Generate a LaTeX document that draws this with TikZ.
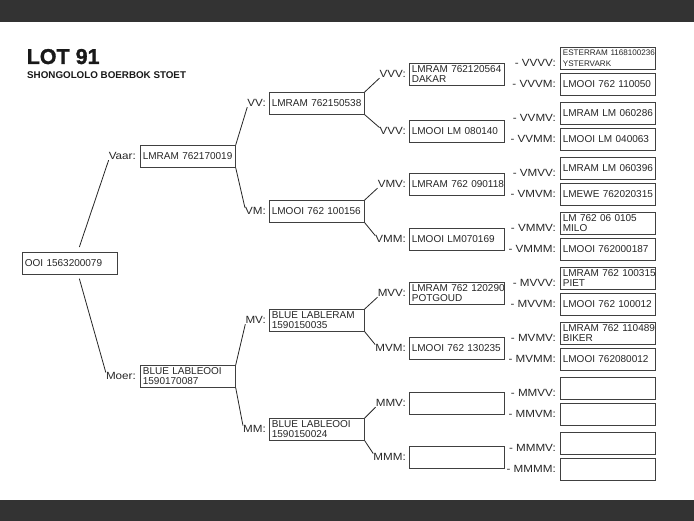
\documentclass[tikz,border=0pt]{standalone}
\usepackage{fontspec}
\setmainfont{Liberation Sans}
\newfontfamily\labfont[FakeStretch=1.12]{Liberation Sans}
\newfontfamily\titlefont[FakeBold=1.2]{Liberation Sans Bold}
\usetikzlibrary{positioning,shadows}
\newcommand\bl[1]{\mbox{#1}}
\begin{document}
\begin{tikzpicture}[x=1pt,y=-1pt,
  box/.style={draw=black!75, fill=white, line width=0.7pt, anchor=north west,
    drop shadow={shadow xshift=0.7pt, shadow yshift=-0.7pt, opacity=1, fill=black!80},
    minimum width=95pt, minimum height=22pt, text width=90pt,
    inner xsep=2.5pt, inner ysep=1pt, align=left,
    font=\fontsize{10}{10.3}\selectfont, text=black!85},
  smallbox/.style={box, font=\fontsize{8.1}{10.3}\selectfont},
  lab/.style={font=\labfont\fontsize{10.4}{12}\selectfont, text=black!85, inner sep=0pt},
  toplab/.style={lab, yshift=-4.5pt},
  botlab/.style={lab, yshift=0pt},
  con/.style={draw=black!85, line width=0.8pt}]

\fill[white] (0,0) rectangle (694,521);
\fill[black!80] (0,0) rectangle (694,22);
\fill[black!80] (0,500) rectangle (694,521);
\useasboundingbox (0,0) rectangle (694,521);

% title
\node[anchor=base west, inner sep=0pt, text=black!90,
  font=\titlefont\fontsize{21.5}{21}\selectfont] (title) at (26.5,64) {LOT 91};
\node[anchor=base west, inner sep=0pt, text=black!90,
  font=\bfseries\fontsize{9.8}{10}\selectfont] (subtitle) at (27,79) {SHONGOLOLO BOERBOK STOET};

% root
\node[box] (root) at (22,252) {\bl{OOI 1563200079}};

% column 1
\node[box] (v) at (140,145) {\bl{LMRAM 762170019}};
\node[box] (m) at (140,365) {\bl{BLUE LABLEOOI}\\\bl{1590170087}};
\node[lab, left=4pt of v] (lv) {Vaar:};
\node[lab, left=4pt of m] (lm) {Moer:};

% column 2
\node[box] (vv) at (269,92) {\bl{LMRAM 762150538}};
\node[box] (vm) at (269,200) {\bl{LMOOI 762 100156}};
\node[box] (mv) at (269,309) {\bl{BLUE LABLERAM}\\\bl{1590150035}};
\node[box] (mm) at (269,418) {\bl{BLUE LABLEOOI}\\\bl{1590150024}};
\node[lab, left=3pt of vv] (lvv) {VV:};
\node[lab, left=3pt of vm] (lvm) {VM:};
\node[lab, left=3pt of mv] (lmv) {MV:};
\node[lab, left=3pt of mm] (lmm) {MM:};

% column 3
\node[box] (vvv) at (409,63) {\bl{LMRAM 762120564}\\\bl{DAKAR}};
\node[box] (vvm) at (409,120) {\bl{LMOOI LM 080140}};
\node[box] (vmv) at (409,173) {\bl{LMRAM 762 090118}};
\node[box] (vmm) at (409,228) {\bl{LMOOI LM070169}};
\node[box] (mvv) at (409,282) {\bl{LMRAM 762 120290}\\\bl{POTGOUD}};
\node[box] (mvm) at (409,337) {\bl{LMOOI 762 130235}};
\node[box] (mmv) at (409,392) {};
\node[box] (mmm) at (409,446) {};
\node[lab, left=3pt of vvv] (lvvv) {VVV:};
\node[lab, left=3pt of vvm] (lvvm) {VVV:};
\node[lab, left=3pt of vmv] (lvmv) {VMV:};
\node[lab, left=3pt of vmm] (lvmm) {VMM:};
\node[lab, left=3pt of mvv] (lmvv) {MVV:};
\node[lab, left=3pt of mvm] (lmvm) {MVM:};
\node[lab, left=3pt of mmv] (lmmv) {MMV:};
\node[lab, left=3pt of mmm] (lmmm) {MMM:};

% column 4
\node[smallbox] (vvvv) at (560,47) {\bl{ESTERRAM 1168100236}\\\bl{YSTERVARK}};
\node[box] (vvvm) at (560,73) {\bl{LMOOI 762 110050}};
\node[box] (vvmv) at (560,102) {\bl{LMRAM LM 060286}};
\node[box] (vvmm) at (560,128) {\bl{LMOOI LM 040063}};
\node[box] (vmvv) at (560,157) {\bl{LMRAM LM 060396}};
\node[box] (vmvm) at (560,183) {\bl{LMEWE 762020315}};
\node[box] (vmmv) at (560,212) {\bl{LM 762 06 0105}\\\bl{MILO}};
\node[box] (vmmm) at (560,238) {\bl{LMOOI 762000187}};
\node[box] (mvvv) at (560,267) {\bl{LMRAM 762 100315}\\\bl{PIET}};
\node[box] (mvvm) at (560,293) {\bl{LMOOI 762 100012}};
\node[box] (mvmv) at (560,322) {\bl{LMRAM 762 110489}\\\bl{BIKER}};
\node[box] (mvmm) at (560,348) {\bl{LMOOI 762080012}};
\node[box] (mmvv) at (560,377) {};
\node[box] (mmvm) at (560,403) {};
\node[box] (mmmv) at (560,432) {};
\node[box] (mmmm) at (560,458) {};
\node[toplab, left=4pt of vvvv] (lvvvv) {- VVVV:};
\node[botlab, left=4pt of vvvm] (lvvvm) {- VVVM:};
\node[toplab, left=4pt of vvmv] (lvvmv) {- VVMV:};
\node[botlab, left=4pt of vvmm] (lvvmm) {- VVMM:};
\node[toplab, left=4pt of vmvv] (lvmvv) {- VMVV:};
\node[botlab, left=4pt of vmvm] (lvmvm) {- VMVM:};
\node[toplab, left=4pt of vmmv] (lvmmv) {- VMMV:};
\node[botlab, left=4pt of vmmm] (lvmmm) {- VMMM:};
\node[toplab, left=4pt of mvvv] (lmvvv) {- MVVV:};
\node[botlab, left=4pt of mvvm] (lmvvm) {- MVVM:};
\node[toplab, left=4pt of mvmv] (lmvmv) {- MVMV:};
\node[botlab, left=4pt of mvmm] (lmvmm) {- MVMM:};
\node[toplab, left=4pt of mmvv] (lmmvv) {- MMVV:};
\node[botlab, left=4pt of mmvm] (lmmvm) {- MMVM:};
\node[toplab, left=4pt of mmmv] (lmmmv) {- MMMV:};
\node[botlab, left=4pt of mmmm] (lmmmm) {- MMMM:};

% connectors
\draw[con] ([xshift=9.5pt,yshift=5pt]root.north) -- (lv.south west);
\draw[con] ([xshift=9.5pt,yshift=-4pt]root.south) -- (lm.north west);

\draw[con] (v.north east) -- (lvv.south west);
\draw[con] (v.south east) -- (lvm.north west);
\draw[con] (m.north east) -- (lmv.south west);
\draw[con] (m.south east) -- (lmm.north west);

\draw[con] (vv.north east) -- (lvvv.south west);
\draw[con] (vv.south east) -- (lvvm.north west);
\draw[con] (vm.north east) -- (lvmv.south west);
\draw[con] (vm.south east) -- (lvmm.north west);
\draw[con] (mv.north east) -- (lmvv.south west);
\draw[con] (mv.south east) -- (lmvm.north west);
\draw[con] (mm.north east) -- (lmmv.south west);
\draw[con] (mm.south east) -- (lmmm.north west);
\end{tikzpicture}
\end{document}
